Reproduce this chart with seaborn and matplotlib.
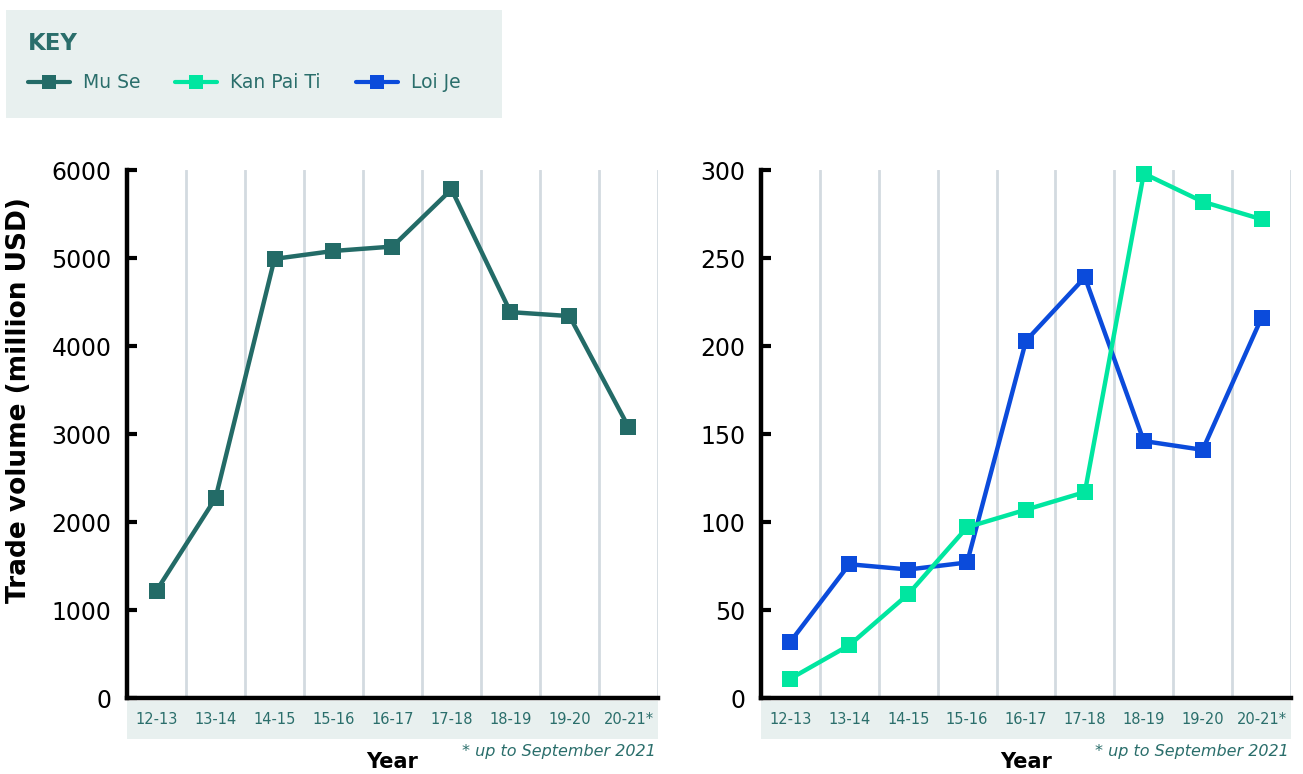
import matplotlib
matplotlib.use("Agg")
import matplotlib.pyplot as plt
from matplotlib.lines import Line2D
from matplotlib.patches import Rectangle
import seaborn as sns
import pandas as pd

years = ["12-13", "13-14", "14-15", "15-16", "16-17", "17-18", "18-19", "19-20", "20-21*"]
mu_se = [1220, 2270, 4990, 5080, 5130, 5780, 4385, 4340, 3080]
kan_pai_ti = [11, 30, 59, 97, 107, 117, 298, 282, 272]
loi_je = [32, 76, 73, 77, 203, 239, 146, 141, 216]
left_ticks = [0, 1000, 2000, 3000, 4000, 5000, 6000]
right_ticks = [0, 50, 100, 150, 200, 250, 300]

C_MU = "#236b67"
C_KAN = "#00e6a0"
C_LOI = "#0b4bdb"
TEAL = "#2a6e6b"
BAND = "#e8f0ef"
GRID = "#d3dae0"

sns.set_theme(style="white")
plt.rcParams["font.family"] = ["DejaVu Sans"]

W, H = 1303, 774
fig = plt.figure(figsize=(W / 100, H / 100), dpi=100)

def fx(px):
    return px / W

def fy(py):
    return 1 - py / H

ax1 = fig.add_axes([fx(127), fy(698), fx(658 - 127), fy(170) - fy(698)])
ax2 = fig.add_axes([fx(761), fy(698), fx(1291 - 761), fy(170) - fy(698)])

df1 = pd.DataFrame({"pos": range(len(years)), "value": mu_se, "series": "Mu Se"})
df2 = pd.concat([
    pd.DataFrame({"pos": range(len(years)), "value": kan_pai_ti, "series": "Kan Pai Ti"}),
    pd.DataFrame({"pos": range(len(years)), "value": loi_je, "series": "Loi Je"}),
])

line_kw = dict(marker="s", markersize=11.5, markeredgewidth=0, linewidth=3.2, legend=False)
sns.lineplot(data=df1, x="pos", y="value", hue="series", palette={"Mu Se": C_MU}, ax=ax1, **line_kw)
sns.lineplot(data=df2, x="pos", y="value", hue="series", hue_order=["Loi Je", "Kan Pai Ti"],
             palette={"Kan Pai Ti": C_KAN, "Loi Je": C_LOI}, ax=ax2, **line_kw)

for ax, ticks, top in [(ax1, left_ticks, 6000), (ax2, right_ticks, 300)]:
    for ln in ax.lines:
        ln.set_clip_on(False)
        ln.set_zorder(5)
    ax.set_xlim(-0.5, len(years) - 0.5)
    ax.set_ylim(0, top)
    for g in range(len(years)):
        ax.axvline(g + 0.5, color=GRID, lw=2, zorder=1)
    ax.set_xticks(range(len(years)))
    ax.set_xticklabels(years, color=TEAL, fontsize=10.5)
    ax.set_yticks(ticks)
    ax.set_yticklabels([str(t) for t in ticks], fontsize=17, color="black")
    ax.tick_params(axis="y", left=True, direction="in", length=7, width=3, color="black", pad=11)
    ax.tick_params(axis="x", bottom=False, length=0, pad=10)
    for s in ["top", "right"]:
        ax.spines[s].set_visible(False)
    for s in ["left", "bottom"]:
        ax.spines[s].set_color("black")
        ax.spines[s].set_linewidth(3.2)
        ax.spines[s].set_capstyle("projecting")
    ax.set_xlabel("")
    ax.set_ylabel("")
    band = Rectangle((0, -0.078), 1, 0.073, transform=ax.transAxes, facecolor=BAND,
                     edgecolor="none", clip_on=False, zorder=0)
    ax.add_patch(band)
    ax.text(0.5, -0.122, "Year", transform=ax.transAxes, ha="center", va="center",
            fontsize=15, fontweight="bold", color="black")
    ax.text(0.995, -0.102, "* up to September 2021", transform=ax.transAxes, ha="right", va="center",
            fontsize=11.5, style="italic", color=TEAL)

fig.text(fx(19), fy(400), "Trade volume (million USD)", rotation=90, ha="center", va="center",
         fontsize=19, fontweight="bold", color="black")

# Key box
fig.patches.append(Rectangle((fx(6), fy(118)), fx(502 - 6), fy(10) - fy(118),
                             transform=fig.transFigure, facecolor=BAND, edgecolor="none", zorder=0))
fig.text(fx(28), fy(43), "KEY", ha="left", va="center", fontsize=16.5, fontweight="bold", color=TEAL)

handles = [Line2D([0], [0], color=c, lw=3, marker="s", markersize=10, markeredgewidth=0)
           for c in [C_MU, C_KAN, C_LOI]]
leg = fig.legend(handles, ["Mu Se", "Kan Pai Ti", "Loi Je"], loc="center left",
                 bbox_to_anchor=(fx(28), fy(83)), ncol=3, frameon=False, fontsize=13.5,
                 borderpad=0, borderaxespad=0,
                 handlelength=2.24, handletextpad=0.7, columnspacing=1.85)
for t in leg.get_texts():
    t.set_color(TEAL)

fig.savefig("out.png", dpi=100)
